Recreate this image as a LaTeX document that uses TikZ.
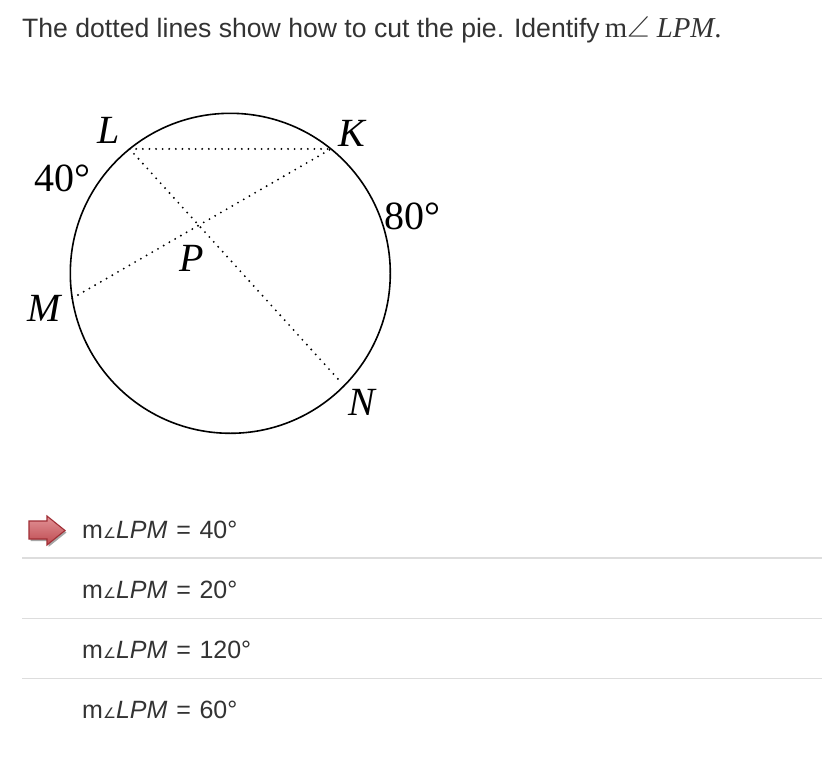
\documentclass[tikz,border=0pt]{standalone}
\usepackage{fontspec}
\setmainfont{Liberation Serif}
\newfontfamily\sansf{Liberation Sans}
\newfontfamily\lmmath{Latin Modern Math}
\newfontfamily\dvsans{DejaVu Sans}
\usetikzlibrary{shadows}
\definecolor{txt}{HTML}{333333}
\definecolor{sep}{HTML}{DDDDDD}
\definecolor{arrtop}{HTML}{E29397}
\definecolor{arrbot}{HTML}{BE4A50}
\definecolor{arredge}{HTML}{A02E35}
\newcommand{\smang}{{\dvsans\fontsize{14.5}{14.5}\selectfont ∠}}
\newcommand{\eqsp}{\hspace{9pt}=\hspace{8.5pt}}
\tikzset{
  lbl/.style={anchor=base west, inner sep=0pt, font=\fontsize{40}{44}\selectfont},
  ans/.style={anchor=base west, inner sep=0pt, text=txt, font=\sansf\fontsize{25}{28}\selectfont},
  cut/.style={line width=2.1pt, line cap=round, dash pattern=on 0pt off 6.6pt},
  sepline/.style={draw=sep, line width=1.6pt},
}
\begin{document}
\begin{tikzpicture}[x=1pt, y=-1pt]
\useasboundingbox (0,0) rectangle (822,784);
\fill[white] (0,0) rectangle (822,784);
% title
\node[anchor=base west, inner sep=0pt, text=txt, font=\sansf\fontsize{26.6}{30}\selectfont] (title) at (22,37.3)
  {The dotted lines show how to cut the pie. Identify\hspace{5pt}{\rmfamily\fontsize{28.8}{30}\selectfont m{\lmmath ∠} \textit{LPM}.}};
% circle and points
\coordinate (C) at (230.3,273.3);
\coordinate (L) at ({230.3+160*cos(129)},{273.3-160*sin(129)});
\coordinate (K) at ({230.3+160*cos(51)},{273.3-160*sin(51)});
\coordinate (M) at ({230.3+160*cos(189)},{273.3-160*sin(189)});
\coordinate (N) at ({230.3+157*cos(-44.6)},{273.3-157*sin(-44.6)});
\draw[line width=1.6pt] (C) circle[radius=160pt];
\draw[cut] (L) -- (K);
\draw[cut] (L) -- (N);
\draw[cut] (M) -- (K);
% labels
\node[lbl] (lL) at (97,143.3) {\textit{L}};
\node[lbl] (lK) at (338,146.7) {\textit{K}};
\node[lbl] (lM) at (27,321.7) {\textit{M}};
\node[lbl] (lN) at (348,415) {\textit{N}};
\node[lbl] (lP) at (179,271.7) {\textit{P}};
\node[lbl] (a40) at (34,191.7) {40°};
\node[lbl] (a80) at (384,229) {80°};
% answer arrow
\path[draw=arredge, line width=1.1pt, top color=arrtop, bottom color=arrbot,
      drop shadow={shadow xshift=1.5pt, shadow yshift=-2pt, opacity=0.35, fill=black}]
  (29,521) -- (47,521) -- (47,516) -- (65,530.5) -- (47,545) -- (47,539) -- (29,539) -- cycle;
% answers
\node[ans] (ans1) at (82,538) {m\smang\textit{LPM}\eqsp40°};
\draw[sepline] (22,558) -- (822,558);
\node[ans] (ans2) at (82,598) {m\smang\textit{LPM}\eqsp20°};
\draw[sepline] (22,618.5) -- (822,618.5);
\node[ans] (ans3) at (82,658) {m\smang\textit{LPM}\eqsp120°};
\draw[sepline] (22,678.5) -- (822,678.5);
\node[ans] (ans4) at (82,718) {m\smang\textit{LPM}\eqsp60°};
\end{tikzpicture}
\end{document}
